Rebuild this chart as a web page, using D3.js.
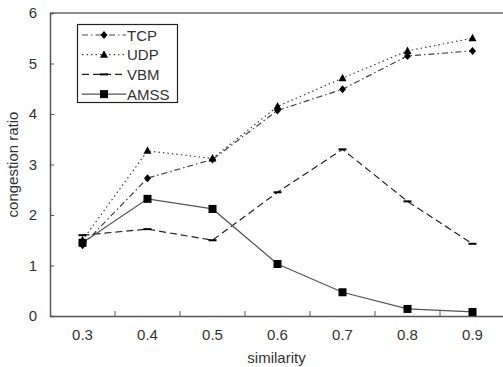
<!DOCTYPE html>
<html>
<head>
<meta charset="utf-8">
<script src="https://cdn.jsdelivr.net/npm/d3@7"></script>
<style>
  body { margin: 0; background: #fff; }
  svg { display: block; font-family: "Liberation Sans", Arial, sans-serif; }
</style>
</head>
<body>
<div id="chart"></div>
<script>
// similarity categories on the x axis
var categories = ["0.3", "0.4", "0.5", "0.6", "0.7", "0.8", "0.9"];
var yTicks = [0, 1, 2, 3, 4, 5, 6];

// congestion ratio per protocol
var tcpValues  = [1.40, 2.73, 3.10, 4.07, 4.49, 5.15, 5.25];
var udpValues  = [1.50, 3.27, 3.12, 4.15, 4.71, 5.25, 5.50];
var vbmValues  = [1.60, 1.72, 1.50, 2.45, 3.30, 2.27, 1.43];
var amssValues = [1.45, 2.32, 2.12, 1.03, 0.47, 0.14, 0.08];

var seriesNames = ["TCP", "UDP", "VBM", "AMSS"];

var width = 503, height = 367;
var margin = {top: 13, right: -2, bottom: 51, left: 50};

var svg = d3.select("#chart").append("svg")
    .attr("width", width)
    .attr("height", height);

var x = d3.scaleBand()
    .domain(categories)
    .range([margin.left, width - margin.right]);

var y = d3.scaleLinear()
    .domain([0, 6])
    .range([height - margin.bottom, margin.top]);

var axisColor = "#555";
var textColor = "#333";

// top frame line
svg.append("line")
    .attr("x1", margin.left).attr("x2", width)
    .attr("y1", y(6)).attr("y2", y(6))
    .attr("stroke", "#222").attr("stroke-width", 1.2);

// y axis, ticks point inward
var yAxis = svg.append("g")
    .attr("transform", "translate(" + margin.left + ",0)")
    .call(d3.axisLeft(y).tickValues(yTicks).tickFormat(d3.format("d"))
        .tickSize(-4).tickPadding(17));
yAxis.select(".domain").attr("stroke", axisColor).attr("stroke-width", 1.5);
yAxis.selectAll(".tick line").attr("stroke", axisColor);
yAxis.selectAll(".tick text")
    .attr("fill", textColor)
    .attr("font-size", "15px")
    .attr("text-anchor", "middle");

// x axis, ticks on band boundaries pointing up
var xAxis = svg.append("g")
    .attr("transform", "translate(0," + y(0) + ")")
    .call(d3.axisBottom(x).tickSize(0).tickPadding(13));
xAxis.select(".domain").attr("stroke", axisColor).attr("stroke-width", 1.5);
xAxis.selectAll(".tick text")
    .attr("fill", textColor)
    .attr("font-size", "15px");

xAxis.selectAll(".bound")
    .data(categories.slice(1))
    .enter().append("line")
    .attr("class", "bound")
    .attr("x1", function (d) { return x(d); })
    .attr("x2", function (d) { return x(d); })
    .attr("y1", 0).attr("y2", -5)
    .attr("stroke", axisColor);

// axis titles
svg.append("text")
    .attr("transform", "translate(18," + ((y(0) + y(6)) / 2) + ") rotate(-90)")
    .attr("text-anchor", "middle")
    .attr("font-size", "15px")
    .attr("fill", textColor)
    .text("congestion ratio");

svg.append("text")
    .attr("x", (margin.left + width) / 2)
    .attr("y", 363)
    .attr("text-anchor", "middle")
    .attr("font-size", "15px")
    .attr("fill", textColor)
    .text("similarity");

var series = [
    {name: "TCP",  values: tcpValues,  dash: "6,3,1.5,3", color: "#444", marker: "diamond"},
    {name: "UDP",  values: udpValues,  dash: "1.5,3",     color: "#444", marker: "triangle"},
    {name: "VBM",  values: vbmValues,  dash: "7,4",       color: "#222", marker: "dash"},
    {name: "AMSS", values: amssValues, dash: null,        color: "#555", marker: "square"}
];

var cx = function (d, i) { return x(categories[i]) + x.bandwidth() / 2; };

var line = d3.line()
    .x(function (d, i) { return cx(d, i); })
    .y(function (d) { return y(d); });

function drawMarker(g, type, px, py) {
    if (type === "diamond") {
        g.append("path")
            .attr("d", "M" + px + "," + (py - 4) + "L" + (px + 3.5) + "," + py +
                "L" + px + "," + (py + 4) + "L" + (px - 3.5) + "," + py + "Z")
            .attr("fill", "#000");
    } else if (type === "triangle") {
        g.append("path")
            .attr("d", "M" + px + "," + (py - 4.5) + "L" + (px + 4) + "," + (py + 3) +
                "L" + (px - 4) + "," + (py + 3) + "Z")
            .attr("fill", "#000");
    } else if (type === "square") {
        g.append("rect")
            .attr("x", px - 4).attr("y", py - 4)
            .attr("width", 8).attr("height", 8)
            .attr("fill", "#000");
    } else {
        g.append("line")
            .attr("x1", px - 4).attr("x2", px + 4)
            .attr("y1", py).attr("y2", py)
            .attr("stroke", "#000").attr("stroke-width", 2);
    }
}

series.forEach(function (s) {
    var g = svg.append("g");
    g.append("path")
        .datum(s.values)
        .attr("d", line)
        .attr("fill", "none")
        .attr("stroke", s.color)
        .attr("stroke-width", 1.2)
        .attr("stroke-dasharray", s.dash);
    s.values.forEach(function (v, i) {
        drawMarker(g, s.marker, cx(v, i), y(v));
    });
});

// legend
var legend = svg.append("g");
legend.append("rect")
    .attr("x", 77.5).attr("y", 24.5)
    .attr("width", 100).attr("height", 78)
    .attr("fill", "#fff")
    .attr("stroke", "#222")
    .attr("stroke-width", 1.2);

series.forEach(function (s, i) {
    var ly = 35 + i * 19.7;
    legend.append("line")
        .attr("x1", 82).attr("x2", 126)
        .attr("y1", ly).attr("y2", ly)
        .attr("stroke", s.color)
        .attr("stroke-width", 1.2)
        .attr("stroke-dasharray", s.dash);
    drawMarker(legend, s.marker, 104, ly);
    legend.append("text")
        .attr("x", 127)
        .attr("y", ly + 5.5)
        .attr("font-size", "15px")
        .attr("fill", textColor)
        .text(s.name);
});
</script>
</body>
</html>
